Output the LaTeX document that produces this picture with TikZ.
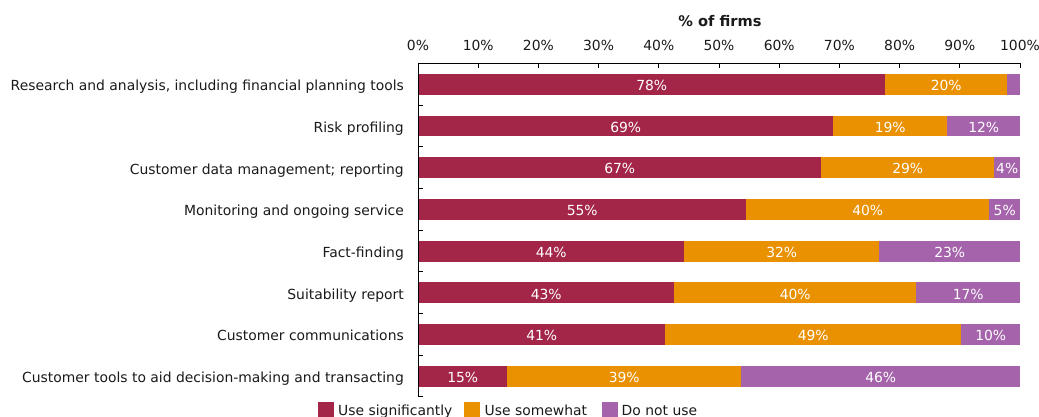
\documentclass[tikz,border=0pt]{standalone}
\usepackage{fontspec}
\setmainfont{DejaVu Sans}
\definecolor{sig}{HTML}{A32648}
\definecolor{some}{HTML}{E99100}
\definecolor{nouse}{HTML}{A463AA}
\definecolor{txt}{HTML}{1A1A1A}
\tikzset{
  lbl/.style={font=\fontsize{13.9}{16}\selectfont, text=txt, inner sep=0pt},
  seg/.style={anchor=west, inner sep=0pt, minimum height=20.8pt, text=white, font=\fontsize{13.9}{16}\selectfont},
  segtxt/.style={anchor=base, inner sep=0pt, text=white, font=\fontsize{13.9}{16}\selectfont},
  axisline/.style={draw=black, line width=0.9pt},
  legbox/.style={inner sep=0pt, minimum width=16pt, minimum height=16pt, anchor=north west}
}
\begin{document}
\begin{tikzpicture}[x=1pt,y=-1pt]
\useasboundingbox (0,0) rectangle (1039,417);
% title
\node[lbl, anchor=base, font=\fontsize{14.6}{16}\selectfont\bfseries] (title) at (720,27) {\% of firms};
% top tick labels and ticks
\foreach \k in {0,...,10}{
  \pgfmathtruncatemacro\v{10*\k}
  \node[lbl, anchor=base] (t\k) at ({418+60.2*\k},51) {\v\%};
  \draw[axisline] ({418+60.2*\k},63.3) -- ({418+60.2*\k},68.3);
}
% bars
\foreach \i/\a/\b/\p/\q/\r/\lab in {
  1/885/1007/78\%/20\%//{Research and analysis, including financial planning tools},
  2/833/947/69\%/19\%/12\%/{Risk profiling},
  3/821/994/67\%/29\%/4\%/{Customer data management; reporting},
  4/746/989/55\%/40\%/5\%/{Monitoring and ongoing service},
  5/684/879/44\%/32\%/23\%/{Fact-finding},
  6/674/916/43\%/40\%/17\%/{Suitability report},
  7/665/961/41\%/49\%/10\%/{Customer communications},
  8/507/741/15\%/39\%/46\%/{Customer tools to aid decision-making and transacting}}{
  \pgfmathsetmacro\y{84.3+41.7*(\i-1)}
  \node[seg, fill=sig, minimum width={\a-418}] (s\i) at (418,\y) {};
  \node[seg, fill=some, minimum width={\b-\a}] (m\i) at (\a,\y) {};
  \node[seg, fill=nouse, minimum width={1020-\b}] (n\i) at (\b,\y) {};
  \node[segtxt] (sp\i) at ([yshift=-6.2pt]s\i.center) {\p};
  \node[segtxt] (mp\i) at ([yshift=-6.2pt]m\i.center) {\q};
  \node[segtxt] (np\i) at ([yshift=-6.2pt]n\i.center) {\r};
  \node[lbl, anchor=base east] (c\i) at (404,{\y+6.4}) {\lab};
}
% axes
\coordinate (o) at (418,63.3);
\coordinate (xe) at (1020,63.3);
\coordinate (ye) at (418,396.3);
\draw[axisline] (xe) -- (o) -- (ye);
\foreach \k in {1,...,8}{
  \draw[axisline] (418,{63.3+41.7*\k}) -- (422.5,{63.3+41.7*\k});
}
% legend
\node[legbox, fill=sig] (l1) at (318,401.7) {};
\node[lbl, anchor=base west] (lt1) at (338,415.5) {Use significantly};
\node[legbox, fill=some] (l2) at (464,401.7) {};
\node[lbl, anchor=base west] (lt2) at (484.5,415.5) {Use somewhat};
\node[legbox, fill=nouse] (l3) at (602,401.7) {};
\node[lbl, anchor=base west] (lt3) at (621.5,415.5) {Do not use};
\end{tikzpicture}
\end{document}
